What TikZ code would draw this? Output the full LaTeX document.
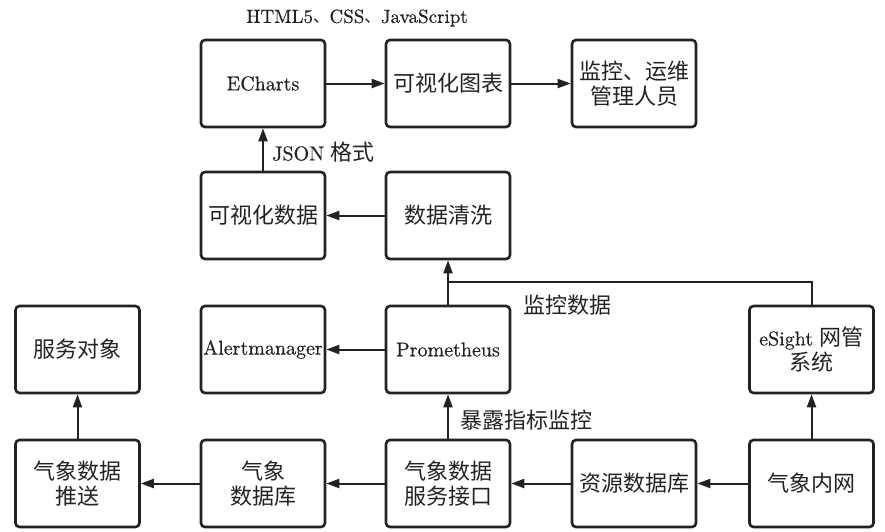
\documentclass[tikz,border=0pt]{standalone}
\usepackage{fontspec}
\setmainfont{lmroman10-regular}[Extension=.otf, FakeBold=0.5]
\newfontfamily\cjk{Noto Sans CJK SC}[Scale=1.1]
\usetikzlibrary{arrows.meta}
\definecolor{ink}{HTML}{222222}
\newcommand\dun{{\cjk\fontsize{15}{20}\selectfont 、}}
\tikzset{
  box/.style={draw=ink, line width=2.6pt, rounded corners=4pt, minimum width=124pt, minimum height=87pt, align=center, inner sep=1pt, font=\fontsize{20}{25}\selectfont, text=ink},
  arr/.style={draw=ink, line width=2pt, -{Triangle[length=13pt,width=9pt]}},
  ln/.style={draw=ink, line width=2pt},
  lbl/.style={font=\fontsize{20}{25}\selectfont, text=ink, inner sep=0pt}
}
\begin{document}
\begin{tikzpicture}[x=1pt,y=-1pt]
\useasboundingbox (0,0) rectangle (885,531);
% row 1
\node[box] (echarts) at (263,83.5) {ECharts};
\node[box] (chart) at (448,83.5) {\cjk 可视化图表};
\node[box] (staff) at (634,83.5) {\cjk 监控、运维\\\cjk 管理人员};
% row 2
\node[box] (vdata) at (263,215.5) {\cjk 可视化数据};
\node[box] (clean) at (448,215.5) {\cjk 数据清洗};
% row 3
\node[box] (target) at (77.5,349.5) {\cjk 服务对象};
\node[box] (alert) at (263,349.5) {Alertmanager};
\node[box] (prom) at (448,349.5) {Prometheus};
\node[box] (esight) at (811.5,349.5) {eSight {\cjk 网管}\\\cjk 系统};
% row 4
\node[box] (push) at (77.5,483.5) {\cjk 气象数据\\\cjk 推送};
\node[box] (db) at (263,483.5) {\cjk 气象\\\cjk 数据库};
\node[box] (api) at (448,483.5) {\cjk 气象数据\\\cjk 服务接口};
\node[box] (res) at (634,483.5) {\cjk 资源数据库};
\node[box] (net) at (811.5,483.5) {\cjk 气象内网};
% labels
\node[lbl, font=\fontsize{19}{24}\selectfont] (techlbl) at (357,18) {HTML5\dun CSS\dun JavaScript};
\node[lbl, anchor=west] (jsonlbl) at (272,152) {JSON {\cjk 格式}};
\node[lbl, anchor=west] (monlbl) at (523,305) {\cjk 监控数据};
\node[lbl, anchor=west] (explbl) at (460,420) {\cjk 暴露指标监控};
% connectors
\coordinate (j) at (448,282);
\draw[arr] (echarts) -- (chart);
\draw[arr] (chart) -- (staff);
\draw[arr] (vdata) -- (echarts);
\draw[arr] (clean) -- (vdata);
\draw[arr] (prom) -- (clean);
\draw[ln] (esight.north) |- (j);
\draw[arr] (prom) -- (alert);
\draw[arr] (api) -- (prom);
\draw[arr] (net) -- (res);
\draw[arr] (res) -- (api);
\draw[arr] (api) -- (db);
\draw[arr] (db) -- (push);
\draw[arr] (push) -- (target);
\draw[arr] (net) -- (esight);
\end{tikzpicture}
\end{document}
